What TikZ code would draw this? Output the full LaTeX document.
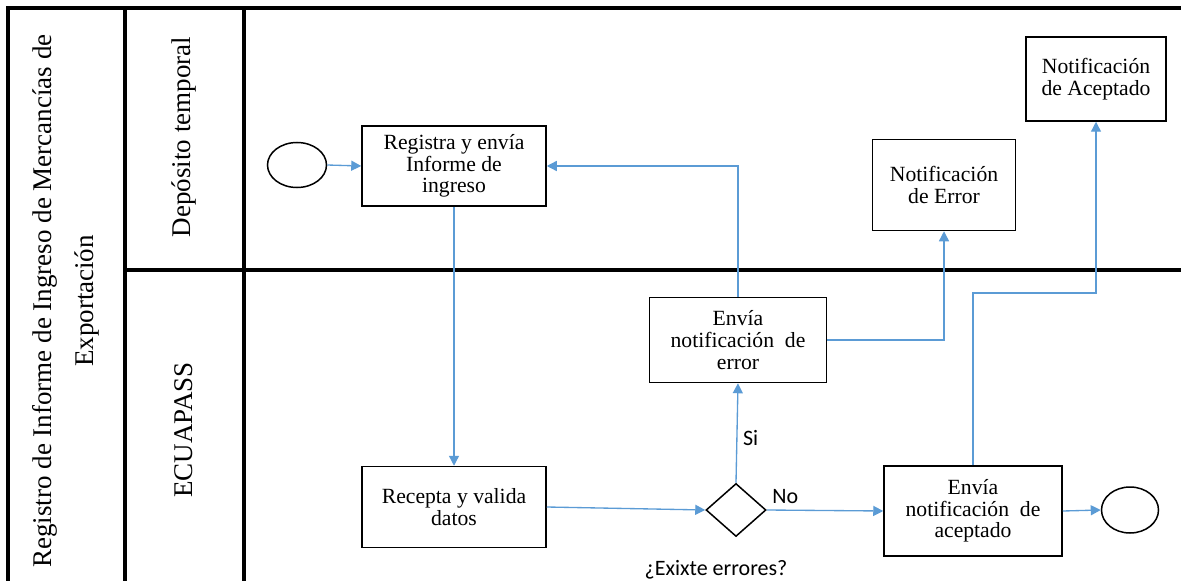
\documentclass[tikz,border=0pt]{standalone}
\usepackage{fontspec}
\setmainfont{Liberation Serif}
\newfontfamily\calfont{Carlito}
\usetikzlibrary{arrows.meta,shapes.geometric}
\definecolor{flowblue}{RGB}{91,155,213}

\begin{document}
\begin{tikzpicture}[x=0.6pt,y=-0.6pt,
  task/.style={draw, line width=0.9pt, align=center, inner sep=0pt, font=\fontsize{13}{13}\selectfont},
  event/.style={draw, ellipse, line width=0.9pt, inner sep=0pt},
  gate/.style={draw, diamond, line width=0.9pt, inner sep=0pt, minimum width=36pt, minimum height=31.8pt},
  flow/.style={flowblue, line width=0.8pt, -{Triangle[length=6pt,width=6pt]}},
  lbl/.style={text=black, font=\calfont\fontsize{13.2}{14}\selectfont},
  lanetxt/.style={rotate=90, align=center, font=\fontsize{16.2}{25}\selectfont},
  lane/.style={line width=2pt}]
\useasboundingbox (0,0) rectangle (1181,581);

% Pool and lanes
\begin{scope}
\clip (0,0) rectangle (1181,581);
\draw[lane] (8,600) -- (8,8) -- (1200,8);
\draw[lane] (125,8) -- (125,600);
\draw[lane] (244,8) -- (244,600);
\draw[lane] (125,270) -- (1200,270);
\end{scope}
\node[lanetxt] (pool) at (66,301) {Registro de Informe de Ingreso de Mercancías de\\Exportación};
\node[lanetxt] (deposito) at (184,137) {Depósito temporal};
\node[lanetxt] (ecuapass) at (184,430) {ECUAPASS};

% Deposito temporal
\node[event, minimum width=35.4pt, minimum height=27pt] (start) at (297,165) {};
\node[task, minimum width=110.4pt, minimum height=48pt] (registra) at (454,166) {Registra y envía\\Informe de\\ingreso};
\node[task, minimum width=85.8pt, minimum height=54.6pt] (notierror) at (944,185) {Notificación\\de Error};
\node[task, minimum width=84pt, minimum height=50.4pt] (notiacep) at (1096,79) {Notificación\\de Aceptado};

% ECUAPASS
\node[task, minimum width=110.4pt, minimum height=48.6pt] (recepta) at (454,507) {Recepta y valida\\datos};
\node[gate] (errores) at (736,510) {};
\node[lbl] (pregunta) at (716,570) {¿Exixte errores?};
\node[task, minimum width=106.2pt, minimum height=51pt] (envierror) at (738,340) {Envía\\notificación \ de\\error};
\node[task, minimum width=106.8pt, minimum height=54pt] (enviacep) at (973,511) {Envía\\notificación \ de\\aceptado};
\node[event, minimum width=34.2pt, minimum height=27.6pt] (fin) at (1130,510) {};
\coordinate (acepcodo) at (1000,293);

% Flows
\draw[flow] (start.east) -- (registra.west);
\draw[flow] (registra.south) -- (recepta.north);
\draw[flow] (recepta.east) -- (errores.west);
\draw[flow] (errores.north) -- node[lbl, right, pos=0.45] {Si} (envierror.south);
\draw[flow] (errores.east) -- node[lbl, above, pos=0.16] {No} (enviacep.west);
\draw[flow] (envierror.north) |- (registra.east);
\draw[flow] (envierror.east) -| (notierror.south);
\draw[flow] (enviacep.north) -- (enviacep.north |- acepcodo) -| (notiacep.south);
\draw[flow] (enviacep.east) -- (fin.west);
\end{tikzpicture}
\end{document}
